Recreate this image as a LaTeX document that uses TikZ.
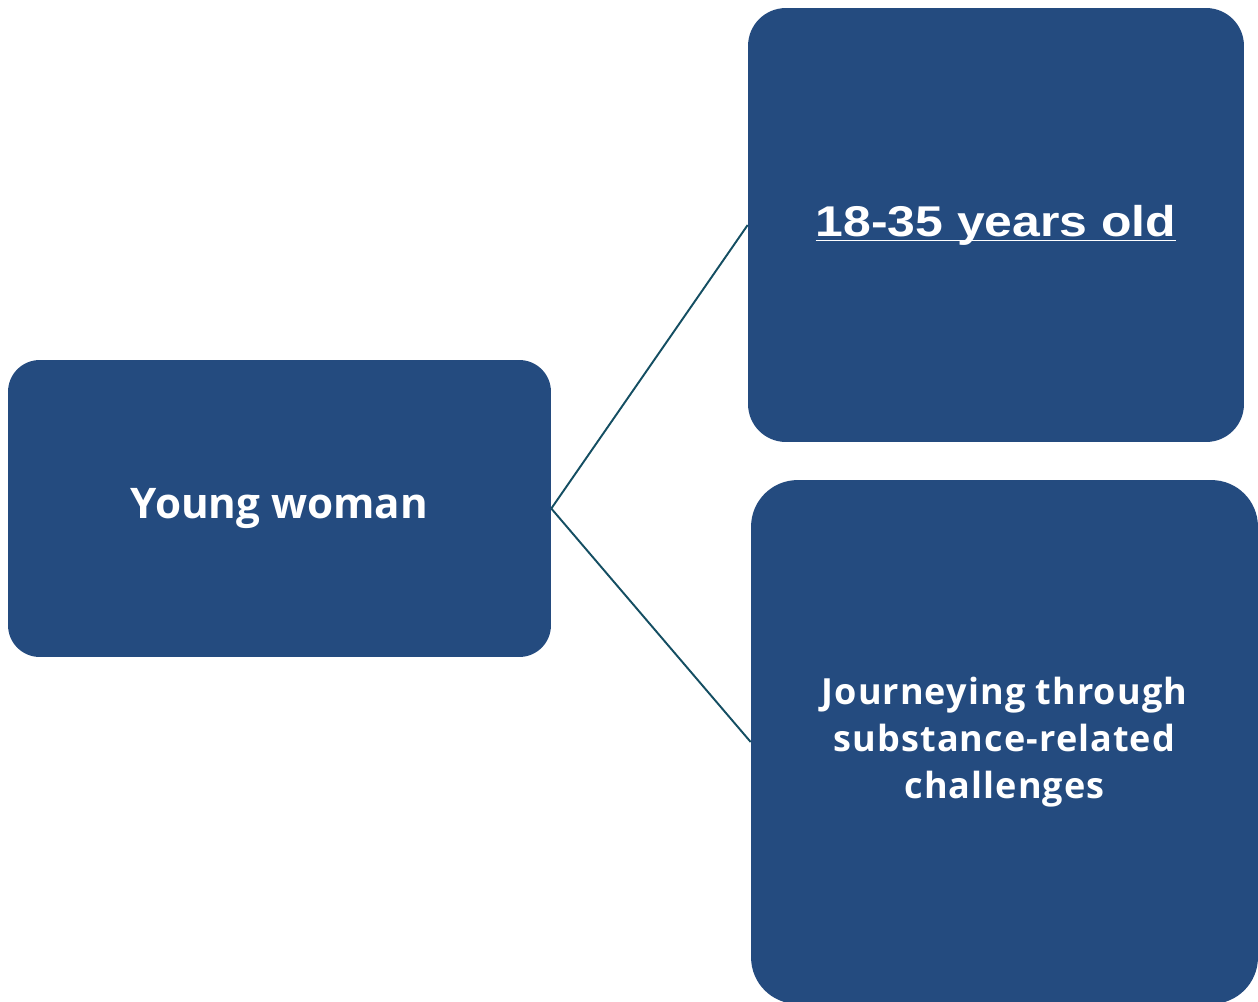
\documentclass[tikz,border=0pt]{standalone}
\usepackage{fontspec}
\setmainfont{Open Sans}
\newfontfamily\agefont[FakeStretch=1.16]{Liberation Sans}
\usepackage{xcolor}
\usetikzlibrary{positioning}
\definecolor{boxblue}{RGB}{36,75,127}
\definecolor{linkteal}{RGB}{20,78,98}
\newcommand{\undertext}[1]{\setbox0\hbox{#1}\rlap{\rule[-3pt]{\wd0}{0.7pt}}\box0}

\begin{document}
\begin{tikzpicture}[x=0.02cm, y=-0.02cm,
    box/.style={fill=boxblue, text=white, inner sep=0pt, align=center},
    link/.style={draw=linkteal, line width=1.1pt}]
        \useasboundingbox (0,0) rectangle (1258,1001);

        % Boxes
        \node[box, rounded corners=18pt, minimum width=10.86cm, minimum height=5.94cm,
              font=\fontsize{24}{28}\selectfont\bfseries] (woman) at (279.5,508.5) {Young woman};
        \node[box, rounded corners=21.5pt, minimum width=9.92cm, minimum height=8.68cm,
              font=\fontsize{24.5}{28}\selectfont\bfseries] (age) at (996,225) {\agefont\undertext{18-35 years old}};
        \node[box, rounded corners=26.5pt, minimum width=10.14cm, minimum height=10.48cm,
              font=\fontsize{20.5}{26.6}\selectfont\bfseries\addfontfeature{LetterSpace=3}] (journey) at (1004.5,742)
              {Journeying through\\substance-related\\challenges};

        % Connectors
        \draw[link] (woman.east) -- (age.west);
        \draw[link] (woman.east) -- (journey.west);
    \end{tikzpicture}
\end{document}
